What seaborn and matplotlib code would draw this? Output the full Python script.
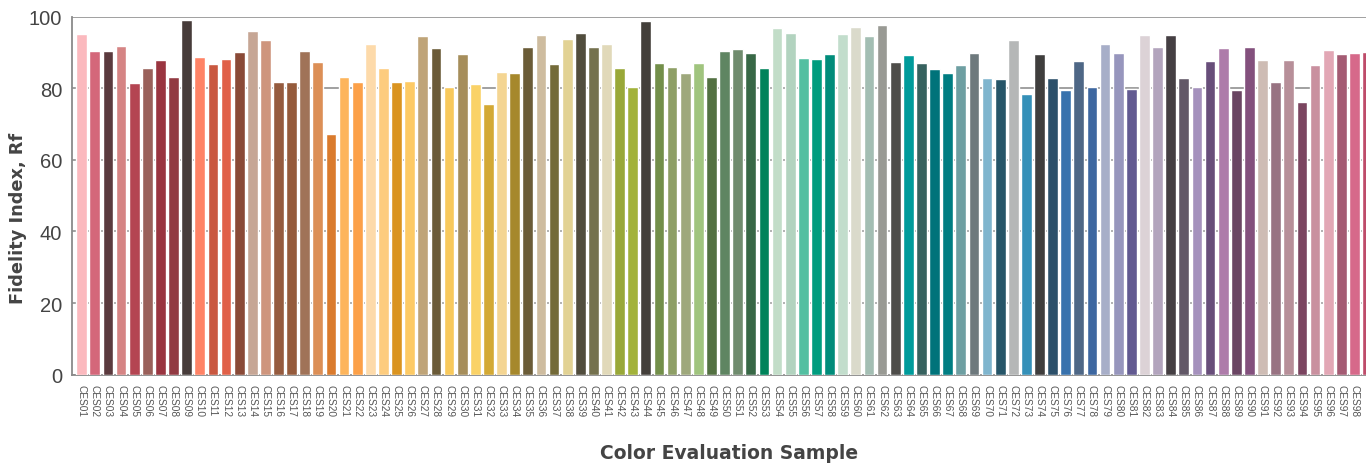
import matplotlib
matplotlib.use("Agg")
import matplotlib.pyplot as plt
import seaborn as sns
import pandas as pd

categories = [f"CES{i:02d}" for i in range(1, 100)]

values = [
    95.3, 90.4, 90.4, 91.8, 81.5, 85.7, 87.9, 83.2, 99.1, 88.7,
    86.8, 88.2, 90.1, 96.0, 93.5, 81.8, 81.8, 90.4, 87.3, 67.2,
    83.2, 81.8, 92.4, 85.7, 81.8, 82.0, 94.6, 91.3, 80.4, 89.6,
    81.2, 75.6, 84.6, 84.3, 91.5, 94.9, 86.8, 93.8, 95.4, 91.5,
    92.4, 85.7, 80.4, 98.8, 87.1, 86.0, 84.3, 87.1, 83.2, 90.4,
    91.0, 89.9, 85.7, 96.8, 95.4, 88.5, 88.2, 89.6, 95.2, 97.1,
    94.6, 97.7, 87.3, 89.3, 87.1, 85.4, 84.3, 86.5, 89.9, 82.9,
    82.6, 93.5, 78.4, 89.6, 82.9, 79.5, 87.6, 80.4, 92.4, 89.9,
    79.8, 94.9, 91.5, 94.9, 82.9, 80.4, 87.6, 91.3, 79.5, 91.5,
    87.9, 81.8, 87.9, 76.2, 86.5, 90.7, 89.6, 89.9, 90.1,
]

colors = [
    "#FBB9BE", "#D4677A", "#5B3A3E", "#D58484", "#B44552", "#9A605A", "#9A3540", "#923A42", "#473C3A", "#FF8366",
    "#C95840", "#E06048", "#8A4A37", "#C6A695", "#CE957D", "#955B3F", "#955B3C", "#A07358", "#DC8F56", "#DA7B2D",
    "#FDB55C", "#FCA048", "#FDDAAA", "#FDCC7E", "#DA9420", "#FDCA65", "#BFA478", "#6B5B38", "#F8C95C", "#A68E5B",
    "#FAD267", "#D3A935", "#F4D592", "#A6882C", "#6B5C37", "#CEBC9F", "#746B39", "#E2D294", "#514D3D", "#74714E",
    "#E1D9B9", "#99A838", "#A2B23A", "#433F3A", "#738F4A", "#8E9F66", "#9EA87C", "#A0C47E", "#537142", "#5F8562",
    "#708C6E", "#386846", "#00835A", "#C2DDC8", "#B2D3BF", "#53BFA1", "#009C7E", "#008C7A", "#C2DDCC", "#DADACB",
    "#A3BEB3", "#999A94", "#4E4D4A", "#009B9B", "#37625F", "#00737A", "#007D82", "#6E9FA2", "#6E797D", "#7FB5CE",
    "#265568", "#B5B7B7", "#3590B8", "#3F3E3D", "#2C506A", "#3872AD", "#4E6786", "#3D67A0", "#A7AEC8", "#9796BD",
    "#625A91", "#DCD2D6", "#B2A4BD", "#453F43", "#625867", "#A591BD", "#684E7A", "#AE7CAA", "#6A4563", "#83507D",
    "#CEBCB4", "#987382", "#B78F99", "#7B4560", "#C9909F", "#E2A7B5", "#A45B73", "#D6698A", "#BE4C6A",
]

y_ticks = [0, 20, 40, 60, 80, 100]

sns.set_style("white")
plt.rcParams["font.family"] = ["Liberation Sans", "DejaVu Sans"]

df = pd.DataFrame({"sample": categories, "rf": values})

fig = plt.figure(figsize=(13.66, 4.64), dpi=100)
ax = fig.add_axes([0.0527, 0.1903, 0.9555, 0.7716])

sns.barplot(data=df, x="sample", y="rf", hue="sample", palette=colors,
            legend=False, width=0.82, saturation=1, ax=ax, zorder=3)

ax.set_ylim(0, 100)
ax.set_xlim(-0.74, len(categories) - 1 + 0.74)
ax.set_yticks(y_ticks)
ax.set_yticklabels([str(t) for t in y_ticks])
ax.yaxis.grid(True, color="#a0a0a0", linewidth=1.4, linestyle="-", zorder=0)
ax.xaxis.grid(False)
ax.set_axisbelow(True)

for s in ["top", "right"]:
    ax.spines[s].set_visible(False)
ax.spines["left"].set_color("#8a8a8a")
ax.spines["left"].set_linewidth(1.3)
ax.spines["bottom"].set_color("#8a8a8a")
ax.spines["bottom"].set_linewidth(1.3)

ax.tick_params(axis="y", length=0, pad=7, labelsize=14.5, labelcolor="#444444")
ax.tick_params(axis="x", length=0, pad=7, labelsize=7.3, labelcolor="#555555")
xlabels = ax.get_xticklabels()
for lab in xlabels:
    lab.set_rotation(-90)
    lab.set_ha("center")
    lab.set_va("top")
# the last sample's label falls past the right edge of the picture, as in the reference
xlabels[-1].set_visible(False)

ax.set_ylabel("Fidelity Index, Rf", fontsize=12.8, fontweight="bold", color="#444444", family=["DejaVu Sans"])
ax.yaxis.label.set_va("center")
ax.yaxis.set_label_coords(-0.0414, 0.44)
ax.set_xlabel("Color Evaluation Sample", fontsize=13.5, fontweight="bold", color="#444444", family=["DejaVu Sans"])
ax.xaxis.label.set_va("center")
ax.xaxis.set_label_coords(0.5035, -0.216)

fig.savefig("out.png", dpi=100)
